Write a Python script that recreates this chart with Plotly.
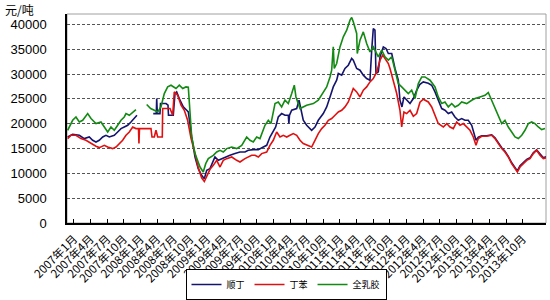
import pandas as pd
import plotly.graph_objects as go

# ---------------- data (decimal years, 元/吨) ----------------
rubber_t = [2006.905, 2006.980, 2007.030, 2007.080, 2007.131, 2007.206, 2007.256, 2007.331, 2007.406, 2007.456,
            2007.507, 2007.556, 2007.606, 2007.657, 2007.707, 2007.756, 2007.782, 2007.832, 2007.883, 2007.932,
            2007.990,
            2008.093, 2008.153, 2008.208, 2008.259, 2008.308, 2008.358, 2008.409, 2008.459, 2008.534, 2008.584,
            2008.635, 2008.684, 2008.719, 2008.744, 2008.770, 2008.820, 2008.895, 2008.944, 2008.981, 2009.020,
            2009.095, 2009.146, 2009.196, 2009.245, 2009.296, 2009.372, 2009.447, 2009.522, 2009.597, 2009.647,
            2009.696, 2009.747, 2009.797, 2009.872, 2009.922, 2009.962, 2010.023, 2010.072, 2010.123, 2010.173,
            2010.223, 2010.274, 2010.313, 2010.338, 2010.399, 2010.499, 2010.599, 2010.674, 2010.725, 2010.800,
            2010.850, 2010.875, 2010.899, 2010.914, 2010.950, 2011.000, 2011.050, 2011.101, 2011.151, 2011.176,
            2011.200, 2011.251, 2011.260, 2011.301, 2011.351, 2011.401, 2011.451, 2011.501, 2011.576, 2011.627,
            2011.677, 2011.727, 2011.778, 2011.827, 2011.877, 2011.928, 2011.978, 2012.027, 2012.078, 2012.128,
            2012.178, 2012.229, 2012.278, 2012.354, 2012.429, 2012.478, 2012.530, 2012.579, 2012.629, 2012.680,
            2012.729, 2012.779, 2012.830, 2012.906, 2012.981, 2013.030, 2013.105, 2013.181, 2013.230, 2013.281,
            2013.331, 2013.381, 2013.432, 2013.481, 2013.531, 2013.582, 2013.632, 2013.682, 2013.733, 2013.782,
            2013.832, 2013.883, 2013.932, 2013.982, 2014.033, 2014.083]
rubber_v = [18670, 20680, 21350, 20340, 20680, 22030, 21030, 20020, 20340, 19330,
            18330, 19330, 18670, 19680, 20680, 21350, 22030, 21690, 22360, 22840,
            None,
            23850, 23040, 22700, 22360, 23370, 26070, 27400, 27740, 27080, 27740,
            27080, 27400, 27340, 22700, 17320, 13970, 11270, 10260, 11950, 12960,
            13630, 14290, 14640, 14290, 14980, 15300, 14980, 15640, 17320, 16650,
            16310, 17320, 17000, 19680, 20680, 20020, 24050, 24370, 23370, 24720,
            24050, 26070, 27740, 25380, 23040, 23710, 24050, 24720, 25720, 27400,
            29410, 30760, 35460, 31110, 32110, 35460, 37480, 38830, 40840, 41390,
            40500, 38160, 34130, 36810, 38480, 36150, 34450, 35460, 33450, 34800,
            33450, 32780, 33450, 30760, 28080, 27400, 26730, 26070, 26730, 25060,
            28080, 29410, 29410, 28750, 27400, 25380, 24050, 24370, 23370, 24050,
            23370, 23710, 24370, 24050, 24720, 25060, 25380, 25720, 26270, 24720,
            23040, 21690, 20020, 20680, 19330, 18330, 17320, 17000, 17660, 18670,
            20020, 20340, 20020, 19330, 18810, 19010]

br_t = [2006.905, 2006.980, 2007.080, 2007.155, 2007.230, 2007.281, 2007.331, 2007.380, 2007.432, 2007.481,
        2007.531, 2007.606, 2007.657, 2007.707, 2007.756, 2007.808, 2007.857, 2007.907, 2007.947,
        2008.000,
        2008.192, 2008.238, 2008.244, 2008.253, 2008.293, 2008.301, 2008.384, 2008.414, 2008.421, 2008.493,
        2008.519, 2008.544, 2008.594, 2008.644, 2008.695, 2008.719, 2008.770, 2008.820, 2008.869, 2008.920,
        2008.960, 2008.996, 2009.045, 2009.095, 2009.120, 2009.170, 2009.221, 2009.271, 2009.346, 2009.421,
        2009.496, 2009.571, 2009.621, 2009.696, 2009.772, 2009.847, 2009.898, 2009.947, 2009.997, 2010.033,
        2010.072, 2010.123, 2010.173, 2010.223, 2010.231, 2010.241, 2010.274, 2010.349, 2010.384, 2010.424,
        2010.448, 2010.499, 2010.574, 2010.624, 2010.674, 2010.749, 2010.800, 2010.850, 2010.899, 2010.950,
        2010.975, 2011.026, 2011.075, 2011.125, 2011.176, 2011.200, 2011.251, 2011.301, 2011.351, 2011.401,
        2011.451, 2011.477, 2011.501, 2011.526, 2011.541, 2011.576, 2011.602, 2011.652, 2011.692, 2011.727,
        2011.778, 2011.827, 2011.877, 2011.902, 2011.932, 2011.962, 2012.003, 2012.053, 2012.103, 2012.153,
        2012.203, 2012.253, 2012.328, 2012.379, 2012.429, 2012.478, 2012.530, 2012.579, 2012.629, 2012.680,
        2012.729, 2012.779, 2012.830, 2012.880, 2012.929, 2012.981, 2013.030, 2013.045, 2013.080, 2013.131,
        2013.206, 2013.281, 2013.331, 2013.381, 2013.432, 2013.481, 2013.531, 2013.582, 2013.632, 2013.667,
        2013.707, 2013.757, 2013.808, 2013.857, 2013.907, 2013.957, 2014.008, 2014.058, 2014.098]
br_v = [17320, 17860, 17660, 17000, 17320, 16650, 16310, 16650, 17320, 17660,
        17320, 17660, 18330, 19010, 19330, 19680, 20340, 21030, 21690,
        None,
        22030, 22030, 25060, 22030, 22030, 24050, 24050, 23710, 21690, 21690,
        26070, 26390, 24720, 23370, 22700, 22360, 17320, 13290, 10950, 9600,
        8930, 10600, 10950, 12620, 13290, 12620, 12960, 13290, 13630, 13970,
        14290, 14290, 14640, 14780, 14780, 15300, 15640, 17320, 18670, 19330,
        21350, 22030, 21690, 21690, 20020, 21690, 22700, 23040, 24720, 21690,
        20680, 19680, 18670, 19330, 20680, 22030, 23370, 25380, 27400, 28750,
        30100, 29760, 31110, 31770, 33120, 32780, 31110, 30760, 29760, 29090,
        28750, 34800, 39170, 38830, 30100, 30420, 33450, 35460, 35140, 34130,
        34130, 31110, 28750, 24720, 23370, 25380, 24720, 24050, 25060, 26730,
        27940, 28410, 28140, 27740, 26390, 24720, 23040, 22700, 22030, 22360,
        21350, 20680, 21030, 20680, 20680, 19680, 17320, 16650, 17260, 17560,
        17560, 17760, 17160, 16150, 15140, 14430, 13430, 12120, 11110, 10500,
        11510, 12120, 12820, 13120, 14130, 14740, 13830, 13120, 13330]

sbr_t = [2006.905, 2006.955, 2007.030, 2007.105, 2007.180, 2007.256, 2007.331, 2007.380, 2007.456, 2007.507,
         2007.582, 2007.632, 2007.681, 2007.732, 2007.782, 2007.832, 2007.883, 2007.932, 2007.970, 2007.977,
         2007.985, 2008.158, 2008.173, 2008.208, 2008.233, 2008.259, 2008.328, 2008.334, 2008.444, 2008.484,
         2008.508, 2008.559, 2008.610, 2008.659, 2008.709, 2008.760, 2008.820, 2008.869, 2008.920, 2008.960,
         2008.996, 2009.045, 2009.095, 2009.146, 2009.196, 2009.245, 2009.296, 2009.372, 2009.447, 2009.496,
         2009.571, 2009.621, 2009.672, 2009.722, 2009.772, 2009.822, 2009.898, 2009.947, 2009.997, 2010.048,
         2010.098, 2010.148, 2010.199, 2010.248, 2010.298, 2010.349, 2010.399, 2010.448, 2010.523, 2010.574,
         2010.624, 2010.674, 2010.725, 2010.774, 2010.825, 2010.875, 2010.925, 2010.975, 2011.026, 2011.075,
         2011.125, 2011.176, 2011.200, 2011.251, 2011.301, 2011.351, 2011.401, 2011.451, 2011.501, 2011.552,
         2011.602, 2011.642, 2011.692, 2011.727, 2011.752, 2011.802, 2011.853, 2011.902, 2011.928, 2011.962,
         2012.003, 2012.053, 2012.103, 2012.153, 2012.203, 2012.253, 2012.328, 2012.379, 2012.429, 2012.478,
         2012.554, 2012.605, 2012.654, 2012.704, 2012.755, 2012.805, 2012.855, 2012.906, 2012.955, 2013.005,
         2013.045, 2013.080, 2013.131, 2013.206, 2013.281, 2013.331, 2013.381, 2013.432, 2013.481, 2013.531,
         2013.582, 2013.632, 2013.667, 2013.707, 2013.757, 2013.808, 2013.857, 2013.907, 2013.957, 2014.008,
         2014.058, 2014.098]
sbr_v = [17000, 17660, 17660, 17000, 16650, 15990, 15440, 15180, 15640, 15300,
         14980, 15300, 15990, 16650, 17660, 18330, 19330, 19010, 19010, 15990,
         19010, 19010, 17320, 17320, 18670, 17320, 17320, 23040, 23040, 21690,
         26390, 25720, 23710, 22700, 20680, 17060, 14030, 11110, 9090, 8350,
         9390, 10810, 11610, 12620, 11270, 12620, 12960, 13290, 12620, 12280,
         12960, 13290, 13630, 13630, 13290, 13970, 14290, 15640, 16650, 18330,
         17320, 17660, 17320, 17660, 18000, 17660, 16650, 15990, 15640, 15300,
         16650, 18000, 19010, 19680, 20680, 21030, 21690, 22360, 22700, 23370,
         24370, 26070, 27080, 26390, 25380, 26730, 27400, 28410, 29090, 30420,
         32780, 33790, 32780, 32110, 31110, 28410, 26070, 22700, 19330, 22360,
         22030, 22700, 21490, 22030, 24310, 24920, 24370, 23370, 21690, 20020,
         19330, 20020, 19330, 19010, 20340, 19680, 20020, 19330, 18670, 17320,
         15640, 17000, 17460, 17460, 17660, 17000, 15990, 14980, 14290, 13290,
         11950, 10950, 10260, 11270, 11950, 12620, 12960, 13970, 14640, 13630,
         12960, 13120]

series_names = ["顺丁", "丁苯", "全乳胶"]
series_colors = ["#14146e", "#e01010", "#138a13"]

tick_labels = [f"{y}年{m}月" for y in range(2007, 2014) for m in (1, 4, 7, 10)]
tick_years = [y + (m - 1) / 12 for y in range(2007, 2014) for m in (1, 4, 7, 10)]
y_ticks = list(range(0, 40001, 5000))
x_start, x_end = 2006.895, 2014.098


def to_date(t):
    return pd.Timestamp("2007-01-01") + pd.to_timedelta((t - 2007) * 365.25, unit="D")


fig = go.Figure()
for name, color, ts, vs in [(series_names[0], series_colors[0], br_t, br_v),
                            (series_names[1], series_colors[1], sbr_t, sbr_v),
                            (series_names[2], series_colors[2], rubber_t, rubber_v)]:
    fig.add_trace(go.Scatter(x=[to_date(t) for t in ts], y=vs, mode="lines", name=name,
                             line=dict(color=color, width=1.6), connectgaps=False))

fig.update_layout(
    width=550, height=300,
    margin=dict(l=67, r=4, t=14, b=77, autoexpand=False),
    paper_bgcolor="white", plot_bgcolor="white",
    font=dict(family="Liberation Sans, Arial", color="black"),
    showlegend=True,
    legend=dict(orientation="h", xref="container", yref="container",
                x=0.52, xanchor="center", y=0.0, yanchor="bottom",
                bordercolor="black", borderwidth=1, bgcolor="white",
                font=dict(family="Noto Sans CJK SC", size=9), itemwidth=30,
                tracegroupgap=0),
    xaxis=dict(type="date", range=[to_date(x_start), to_date(x_end)],
               tickvals=[to_date(t) for t in tick_years], ticktext=tick_labels,
               tickangle=-45, tickfont=dict(family="Noto Sans CJK SC", size=11.5),
               ticks="inside", ticklen=4, tickcolor="black", ticklabelstandoff=3,
               showline=True, linecolor="black", linewidth=1.5,
               showgrid=False, zeroline=False),
    yaxis=dict(range=[0, 42080], tickvals=y_ticks, ticktext=[str(v) for v in y_ticks],
               tickfont=dict(size=13), ticks="", ticklabelstandoff=16,
               showline=True, linecolor="black", linewidth=1.5,
               showgrid=True, gridcolor="#555555", gridwidth=1, griddash="3px,2px",
               zeroline=False),
    annotations=[dict(text="元/吨", xref="paper", yref="paper", x=-0.134, y=1.022,
                      xanchor="left", yanchor="middle", showarrow=False,
                      font=dict(family="Noto Sans CJK SC", size=12))],
    shapes=[dict(type="rect", xref="paper", yref="paper", x0=0, y0=0, x1=1, y1=1,
                 fillcolor="rgba(0,0,0,0)",
                 line=dict(color="#a0a0a0", width=1), layer="between")],
)

fig.write_html("out.html")
